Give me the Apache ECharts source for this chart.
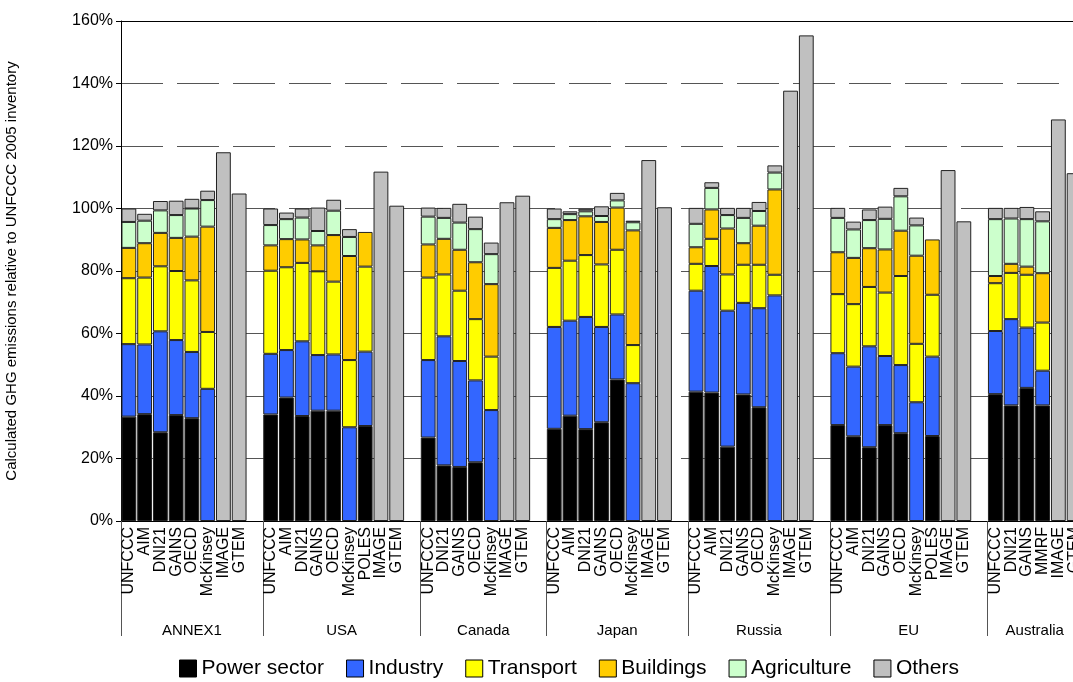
<!DOCTYPE html>
<html>
<head>
<meta charset="utf-8">
<script src="https://cdn.jsdelivr.net/npm/echarts@6/dist/echarts.min.js"></script>
<style>html,body{margin:0;padding:0;background:#fff}#c{width:1073px;height:682px}</style>
</head>
<body>
<div id="c"></div>
<script>
// category slots, '' = spacer between regions
const categories = [
  'UNFCCC','AIM','DNI21','GAINS','OECD','McKinsey','IMAGE','GTEM','',
  'UNFCCC','AIM','DNI21','GAINS','OECD','McKinsey','POLES','IMAGE','GTEM','',
  'UNFCCC','DNI21','GAINS','OECD','McKinsey','IMAGE','GTEM','',
  'UNFCCC','AIM','DNI21','GAINS','OECD','McKinsey','IMAGE','GTEM','',
  'UNFCCC','AIM','DNI21','GAINS','OECD','McKinsey','IMAGE','GTEM','',
  'UNFCCC','AIM','DNI21','GAINS','OECD','McKinsey','POLES','IMAGE','GTEM','',
  'UNFCCC','DNI21','GAINS','MMRF','IMAGE','GTEM'
];
const regions = ['ANNEX1','USA','Canada','Japan','Russia','EU','Australia'];
const regionStart = [0, 9, 19, 27, 36, 45, 55, 61];

const power = [
  33.4,34.2,28.4,33.9,32.9,null,null,null,null,
  34.1,39.5,33.6,35.3,35.3,null,30.4,null,null,null,
  26.7,17.8,17.3,18.8,null,null,null,null,
  29.5,33.7,29.4,31.6,45.3,null,null,null,null,
  41.4,41.1,23.8,40.5,36.4,null,null,null,null,
  30.7,27.1,23.6,30.7,28.1,null,27.2,null,null,null,
  40.6,37,42.6,37,null,null
];
const industry = [
  23.2,22.3,32.3,24,21.2,42.3,null,null,null,
  19.4,15.2,23.9,17.8,18,30,23.8,null,null,null,
  24.8,41.3,33.9,26.2,35.5,null,null,null,
  32.6,30.4,35.9,30.5,20.8,44.1,null,null,null,
  32.3,40.5,43.5,29.3,31.7,72.2,null,null,null,
  23,22.3,32.3,22.1,21.8,38,25.4,null,null,null,
  20.2,27.6,19.3,11.1,null,null
];
const transport = [
  21.1,21.4,20.8,22.1,22.9,18.2,null,null,null,
  26.6,26.5,25.1,26.8,23.3,21.5,27.2,null,null,null,
  26.4,19.8,22.5,19.6,17.1,null,null,null,
  18.9,19.2,19.8,20,20.7,12.2,null,null,null,
  8.6,8.7,11.6,12.2,13.9,6.6,null,null,null,
  18.9,20,19,20.3,28.5,18.7,19.8,null,null,null,
  15.3,14.8,16.9,15.4,null,null
];
const buildings = [
  9.7,11,10.7,10.6,14,33.7,null,null,null,
  8.1,9,7.5,8.3,14.9,33.3,11.1,null,null,null,
  10.6,11.4,13.1,18.2,23.2,null,null,null,
  12.8,13,12.4,13.6,13.5,36.7,null,null,null,
  5.3,9.4,14.7,6.9,12.5,27.3,null,null,null,
  13.4,14.8,12.4,13.8,14.5,28.2,17.7,null,null,null,
  2.3,2.9,2.6,15.8,null,null
];
const agriculture = [
  8.3,7.2,7.2,7.3,9,8.5,null,null,null,
  6.5,6.4,7,4.6,7.8,6.1,null,null,null,null,
  8.9,6.7,8.7,10.6,9.6,null,null,null,
  2.8,1.9,1.6,1.9,2.3,2.6,null,null,null,
  7.5,6.9,4.3,8.1,4.7,5.4,null,null,null,
  11,9.1,9,9.8,11,9.7,null,null,null,null,
  18.2,14.5,15.2,16.6,null,null
];
const others = [
  4.3,2.2,3,4.6,3.1,3,118,104.8,null,
  5.3,2.1,2.9,7.5,3.5,2.5,null,111.8,100.9,null,
  2.9,3.2,6,4,3.7,102,104.1,null,
  3.4,0.9,0.8,3.1,2.4,0.5,115.5,100.4,null,
  5.1,1.8,2.3,3.2,2.9,2.3,137.7,155.4,null,
  3.2,2.5,3.4,3.9,2.7,2.5,null,112.3,95.9,null,
  3.6,3.4,3.9,3.2,128.5,111.3
];

const seriesDefs = [
  ['Power sector', power, '#000000'],
  ['Industry', industry, '#3366ff'],
  ['Transport', transport, '#ffff00'],
  ['Buildings', buildings, '#ffcc00'],
  ['Agriculture', agriculture, '#ccffcc'],
  ['Others', others, '#c0c0c0']
];

const font = 'Liberation Sans, Arial, sans-serif';
const centers = regions.map((r, i) => (regionStart[i] + regionStart[i + 1]) / 2);

const chart = echarts.init(document.getElementById('c'));
chart.setOption({
  animation: false,
  textStyle: { fontFamily: font },
  grid: { left: 121, top: 21, bottom: 161, right: -9, outerBoundsMode: 'none', containLabel: false },
  legend: {
    bottom: -2, left: 174, itemWidth: 17, itemHeight: 17, itemGap: 22,
    icon: 'rect',
    textStyle: { fontSize: 21, fontFamily: font, color: '#000' },
    itemStyle: { borderColor: '#000', borderWidth: 1 }
  },
  xAxis: [{
    type: 'category',
    data: categories,
    axisLine: { lineStyle: { color: '#000', width: 1 } },
    axisTick: { show: false },
    axisLabel: { interval: 0, rotate: 90, fontSize: 16, color: '#000', margin: 6, fontFamily: font }
  }, {
    type: 'value',
    min: 0, max: 61,
    position: 'bottom',
    offset: 94,
    axisLine: { show: false },
    axisTick: { show: false },
    splitLine: { show: false },
    axisLabel: {
      customValues: centers,
      fontSize: 15, color: '#000', fontFamily: font,
      formatter: (v) => regions[centers.indexOf(v)] || ''
    }
  }, {
    type: 'value',
    min: 0, max: 61,
    position: 'bottom',
    axisLine: { show: false },
    splitLine: { show: false },
    axisLabel: { show: false },
    axisTick: { show: true, customValues: regionStart, length: 115, lineStyle: { color: '#555' } }
  }, {
    type: 'value',
    min: 0, max: 61,
    position: 'top',
    axisLine: { show: true, lineStyle: { color: '#000' } },
    splitLine: { show: false },
    axisLabel: { show: false },
    axisTick: { show: false }
  }],
  yAxis: {
    type: 'value',
    min: 0, max: 160, interval: 20,
    name: 'Calculated GHG emissions relative to UNFCCC 2005 inventory',
    nameLocation: 'middle', nameGap: 102,
    nameTextStyle: { fontSize: 15, color: '#000', fontFamily: font },
    axisLine: { show: true, lineStyle: { color: '#000' } },
    axisTick: { show: true, length: 5, lineStyle: { color: '#000' } },
    axisLabel: { formatter: '{value}%', fontSize: 16, color: '#000', fontFamily: font },
    splitLine: { lineStyle: { type: [42, 14], color: '#555' } }
  },
  series: seriesDefs.map(([name, data, color]) => ({
    name, type: 'bar', stack: 'total', data,
    barCategoryGap: '6%',
    itemStyle: { color, borderColor: '#222', borderWidth: 1 }
  }))
});
</script>
</body>
</html>
